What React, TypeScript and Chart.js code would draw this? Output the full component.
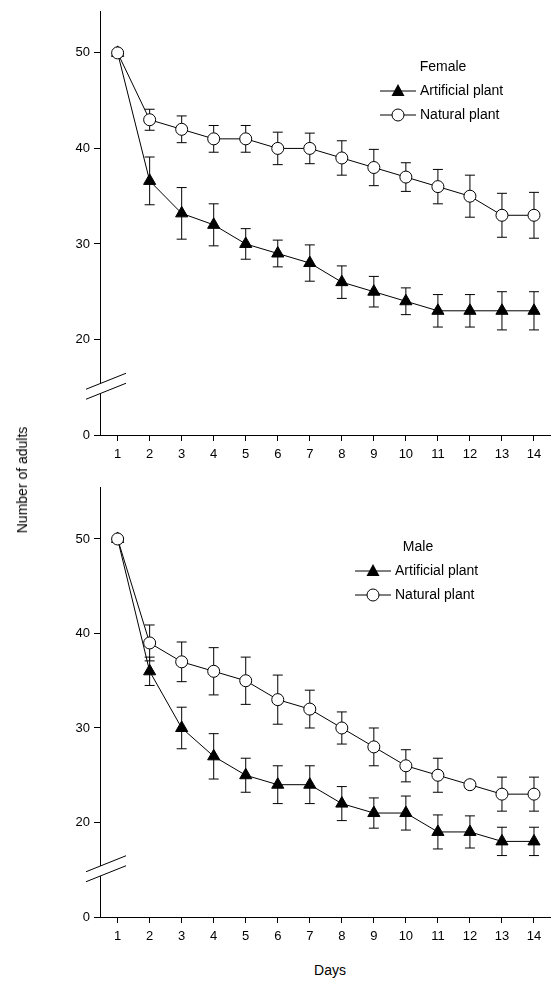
import { useRef, useEffect } from 'react';
import { Chart, registerables } from 'chart.js';

Chart.register(...registerables);

const days = [1, 2, 3, 4, 5, 6, 7, 8, 9, 10, 11, 12, 13, 14];
const femaleArtificial = [50, 36.6, 33.2, 32, 30, 29, 28, 26, 25, 24, 23, 23, 23, 23];
const femaleArtificialErr = [0, 2.5, 2.7, 2.2, 1.6, 1.4, 1.9, 1.7, 1.6, 1.4, 1.7, 1.7, 2, 2];
const femaleNatural = [50, 43, 42, 41, 41, 40, 40, 39, 38, 37, 36, 35, 33, 33];
const femaleNaturalErr = [0, 1.1, 1.4, 1.4, 1.4, 1.7, 1.6, 1.8, 1.9, 1.5, 1.8, 2.2, 2.3, 2.4];
const maleArtificial = [50, 36, 30, 27, 25, 24, 24, 22, 21, 21, 19, 19, 18, 18];
const maleArtificialErr = [0, 1.5, 2.2, 2.4, 1.8, 2, 2, 1.8, 1.6, 1.8, 1.8, 1.7, 1.5, 1.5];
const maleNatural = [50, 39, 37, 36, 35, 33, 32, 30, 28, 26, 25, 24, 23, 23];
const maleNaturalErr = [0, 1.9, 2.1, 2.5, 2.5, 2.6, 2, 1.7, 2, 1.7, 1.8, 0.4, 1.8, 1.8];
const yTicks = [10, 20, 30, 40, 50]; // 10 is drawn as "0" below the break

const FONT = 'Arial, "Liberation Sans", sans-serif';

const errorBars = {
  id: 'errorBars',
  beforeDatasetsDraw(chart: any) {
    const ctx = chart.ctx;
    const y = chart.scales.y;
    ctx.save();
    ctx.strokeStyle = '#000';
    ctx.lineWidth = 1;
    chart.data.datasets.forEach((ds: any, i: number) => {
      const meta = chart.getDatasetMeta(i);
      meta.data.forEach((pt: any, j: number) => {
        const e = ds.err[j];
        if (!e) return;
        const v = ds.data[j].y;
        const top = y.getPixelForValue(v + e);
        const bot = y.getPixelForValue(v - e);
        ctx.beginPath();
        ctx.moveTo(pt.x, top); ctx.lineTo(pt.x, bot);
        ctx.moveTo(pt.x - 5, top); ctx.lineTo(pt.x + 5, top);
        ctx.moveTo(pt.x - 5, bot); ctx.lineTo(pt.x + 5, bot);
        ctx.stroke();
      });
    });
    ctx.restore();
  },
};

const decorations = {
  id: 'decorations',
  afterDraw(chart: any) {
    const ctx = chart.ctx;
    const o = chart.options.plugins.decorations;
    const y = chart.scales.y;
    const x0 = chart.chartArea.left;
    ctx.save();
    // axis break
    const yb = y.getPixelForValue(15);
    ctx.fillStyle = '#fff';
    ctx.beginPath();
    ctx.moveTo(x0 - 14, yb + 2); ctx.lineTo(x0 + 26, yb - 14);
    ctx.lineTo(x0 + 26, yb - 4); ctx.lineTo(x0 - 14, yb + 12);
    ctx.fill();
    ctx.strokeStyle = '#000';
    ctx.lineWidth = 1;
    ctx.beginPath();
    ctx.moveTo(x0 - 14, yb + 2); ctx.lineTo(x0 + 26, yb - 14);
    ctx.moveTo(x0 - 14, yb + 12); ctx.lineTo(x0 + 26, yb - 4);
    ctx.stroke();
    // legend
    ctx.fillStyle = '#000';
    ctx.font = '14px ' + FONT;
    ctx.textBaseline = 'middle';
    ctx.textAlign = 'center';
    ctx.fillText(o.title, o.x + 63, o.y);
    ctx.textAlign = 'left';
    const rows = [
      { y: o.y + 24, tri: true, label: 'Artificial plant' },
      { y: o.y + 48, tri: false, label: 'Natural plant' },
    ];
    rows.forEach((r) => {
      ctx.beginPath();
      ctx.moveTo(o.x, r.y); ctx.lineTo(o.x + 36, r.y);
      ctx.stroke();
      const cx = o.x + 18;
      ctx.beginPath();
      if (r.tri) {
        ctx.moveTo(cx, r.y - 7); ctx.lineTo(cx + 6.5, r.y + 5); ctx.lineTo(cx - 6.5, r.y + 5);
        ctx.closePath();
        ctx.fillStyle = '#000';
        ctx.fill();
      } else {
        ctx.arc(cx, r.y, 6, 0, Math.PI * 2);
        ctx.fillStyle = '#fff';
        ctx.fill();
        ctx.stroke();
      }
      ctx.fillStyle = '#000';
      ctx.fillText(r.label, o.x + 40, r.y);
    });
    ctx.restore();
  },
};

function Panel(props: any) {
  const ref = useRef<HTMLCanvasElement>(null);
  useEffect(() => {
    if (!ref.current) return;
    const toPts = (a: number[]) => a.map((v, i) => ({ x: days[i], y: v }));
    const chart = new Chart(ref.current, {
      type: 'line',
      data: {
        datasets: [
          {
            data: toPts(props.art), err: props.artErr, borderColor: '#000', borderWidth: 1, order: 2,
            pointStyle: 'triangle', pointRadius: 7, pointBackgroundColor: '#000', pointBorderColor: '#000',
          } as any,
          {
            data: toPts(props.nat), err: props.natErr, borderColor: '#000', borderWidth: 1, order: 1,
            pointStyle: 'circle', pointRadius: 6, pointBackgroundColor: '#fff', pointBorderColor: '#000',
          } as any,
        ],
      },
      options: {
        animation: false,
        responsive: false,
        layout: { padding: { top: props.padTop, right: 0, left: 0, bottom: 0 } },
        plugins: {
          legend: { display: false },
          tooltip: { enabled: false },
          decorations: props.legend,
        } as any,
        scales: {
          x: {
            type: 'linear', min: 0.45, max: 14.5,
            afterFit: (s: any) => { s.height = 35; },
            afterBuildTicks: (s: any) => { s.ticks = days.map((d) => ({ value: d })); },
            grid: { drawOnChartArea: false, tickLength: 6, color: '#000' },
            border: { color: '#000' },
            ticks: { color: '#000', font: { family: FONT, size: 13 }, padding: 6, autoSkip: false },
          },
          y: {
            type: 'linear', min: 10, max: props.yMax,
            afterFit: (s: any) => { s.width = 100; },
            afterBuildTicks: (s: any) => { s.ticks = yTicks.map((v) => ({ value: v })); },
            grid: { drawOnChartArea: false, tickLength: 6, color: '#000' },
            border: { color: '#000' },
            ticks: {
              color: '#000', font: { family: FONT, size: 13 }, padding: 4,
              callback: (v: any) => (v === 10 ? '0' : String(v)),
            },
          },
        },
      },
      plugins: [errorBars, decorations],
    });
    return () => chart.destroy();
  }, []);
  return (
    <canvas ref={ref} width={558} height={props.height}
      style={{ position: 'absolute', left: 0, top: props.top, width: 558, height: props.height }} />
  );
}

export default function App() {
  return (
    <div style={{ position: 'relative', width: 558, height: 983, fontFamily: FONT, background: '#fff' }}>
      <style>{'body{margin:0}'}</style>
      <Panel top={0} height={470} padTop={8} yMax={54.3}
        art={femaleArtificial} artErr={femaleArtificialErr} nat={femaleNatural} natErr={femaleNaturalErr}
        legend={{ title: 'Female', x: 380, y: 67 }} />
      <Panel top={475} height={477} padTop={12} yMax={55.5}
        art={maleArtificial} artErr={maleArtificialErr} nat={maleNatural} natErr={maleNaturalErr}
        legend={{ title: 'Male', x: 355, y: 547 - 475 }} />
      <div style={{ position: 'absolute', left: 22, top: 480, transform: 'translate(-50%,-50%) rotate(-90deg)', fontSize: 14, whiteSpace: 'nowrap' }}>
        Number of adults
      </div>
      <div style={{ position: 'absolute', left: 330, top: 970, transform: 'translate(-50%,-50%)', fontSize: 14 }}>
        Days
      </div>
    </div>
  );
}
